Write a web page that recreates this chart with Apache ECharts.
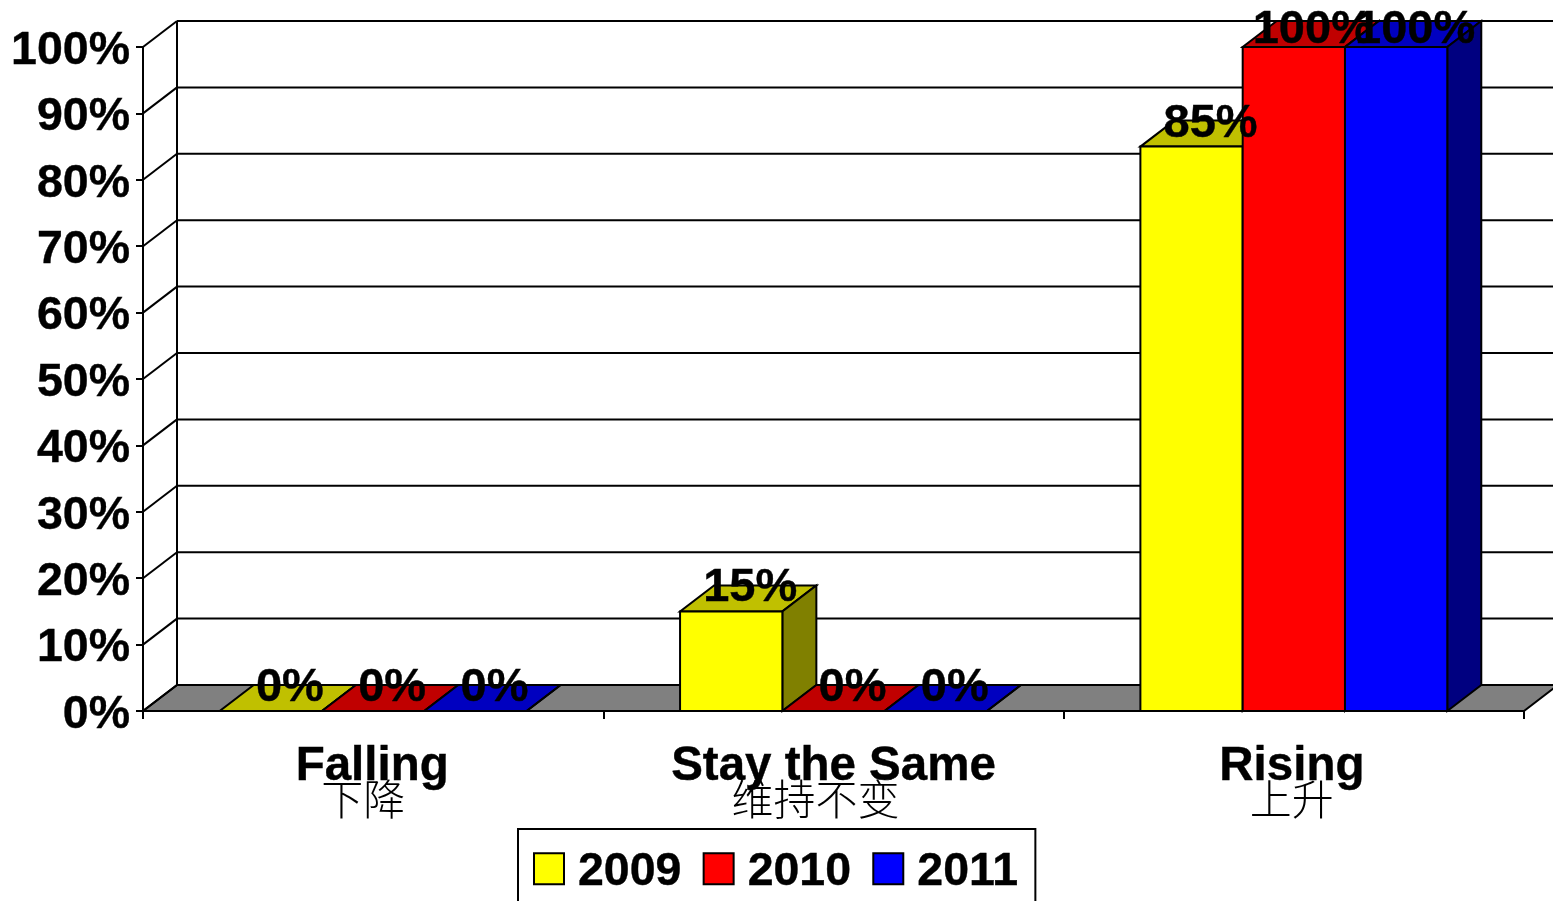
<!DOCTYPE html>
<html><head><meta charset="utf-8">
<style>html,body{margin:0;padding:0;background:#fff;overflow:hidden}#c{width:1553px;height:901px}</style>
<script src="https://cdn.jsdelivr.net/npm/echarts@6/dist/echarts.min.js"></script>
</head><body><div id="c"></div>
<script>
const categories = ['Falling', 'Stay the Same', 'Rising'];
const categoriesZh = ['下降', '维持不变', '上升'];
const years = ['2009', '2010', '2011'];
const values2009 = [0, 15, 85];
const values2010 = [0, 0, 100];
const values2011 = [0, 0, 100];
const yTicks = [0, 10, 20, 30, 40, 50, 60, 70, 80, 90, 100];

const allValues = [values2009, values2010, values2011];
const faces = [
  { front: '#FFFF00', top: '#C0C000', side: '#808000' },
  { front: '#FF0000', top: '#C00000', side: '#800000' },
  { front: '#0000FF', top: '#0000C0', side: '#000080' }
];
const DX = 34, DY = -26, LINE = 2, BOLD = 0.4;
const FONT = 'Liberation Sans';
const lineStyle = { stroke: '#000', lineWidth: LINE, fill: null };

function poly(points, fill) {
  return { type: 'polygon', shape: { points }, style: { fill, stroke: '#000', lineWidth: LINE, lineJoin: 'miter' } };
}
function seg(a, b) {
  return { type: 'line', shape: { x1: a[0], y1: a[1], x2: b[0], y2: b[1] }, style: lineStyle };
}
function wallItem(params, api) {
  const v = api.value(1);
  const band = api.size([1, 0])[0];
  const left = api.coord([0, v])[0] - band / 2;
  const right = left + band * categories.length;
  const y = api.coord([0, v])[1];
  const y0 = api.coord([0, 0])[1];
  const y100 = api.coord([0, yTicks[yTicks.length - 1]])[1];
  const ch = [];
  if (v === 0) {
    ch.push(poly([[left, y0], [right, y0], [right + DX, y0 + DY], [left + DX, y0 + DY]], '#808080'));
    ch.push(seg([left + DX, y0 + DY], [left + DX, y100 + DY]));
  } else {
    ch.push(seg([left + DX, y + DY], [right + DX, y + DY]));
  }
  ch.push(seg([left, y], [left + DX, y + DY]));
  return { type: 'group', children: ch };
}
function barGeom(api, s) {
  const c = api.value(0), v = api.value(1);
  const band = api.size([1, 0])[0];
  const w = band / 4.5;
  const p = api.coord([c, v]);
  const base = api.coord([c, 0])[1];
  const x = p[0] + (s - 1.5) * w;
  return { x, w, y: p[1], base };
}
function barItem(s) {
  return function (params, api) {
    const g = barGeom(api, s);
    const f = faces[s];
    return { type: 'group', children: [
      poly([[g.x, g.y], [g.x + g.w, g.y], [g.x + g.w + DX, g.y + DY], [g.x + DX, g.y + DY]], f.top),
      poly([[g.x + g.w, g.base], [g.x + g.w + DX, g.base + DY], [g.x + g.w + DX, g.y + DY], [g.x + g.w, g.y]], f.side),
      poly([[g.x, g.base], [g.x + g.w, g.base], [g.x + g.w, g.y], [g.x, g.y]], f.front)
    ] };
  };
}
function labelItem(params, api) {
  const s = api.value(2);
  const g = barGeom(api, s);
  const lift = api.value(1) === 100 ? -17 : -23;
  return {
    type: 'text',
    style: {
      x: g.x + g.w / 2 + 19, y: g.y + lift,
      text: api.value(1) + '%', align: 'center', verticalAlign: 'middle',
      font: 'bold 47px "' + FONT + '"', fill: '#000', stroke: '#000', lineWidth: BOLD
    }
  };
}
const wallData = yTicks.map(t => [0, t]);
const labelData = [];
allValues.forEach((vals, s) => vals.forEach((v, c) => labelData.push([c, v, s])));

const series = [
  { name: 'walls', type: 'custom', z: 1, silent: true, clip: false, renderItem: wallItem, encode: { x: 0, y: 1 }, data: wallData }
];
years.forEach((y, s) => {
  series.push({
    name: y, type: 'custom', z: 2 + s, silent: true, clip: false,
    renderItem: barItem(s), encode: { x: 0, y: 1 },
    itemStyle: { color: faces[s].front, borderColor: '#000', borderWidth: 2 },
    data: allValues[s].map((v, c) => [c, v])
  });
});
series.push({ name: 'labels', type: 'custom', z: 9, silent: true, clip: false, renderItem: labelItem, encode: { x: 0, y: 1 }, data: labelData });

const zhShift = [20, 36, 4];
const enShift = [2, 0, 4];
const rich = {};
categories.forEach((c, i) => {
  rich['en' + i] = { fontFamily: FONT, fontWeight: 'bold', fontSize: 47.5, color: '#000', textBorderColor: '#000', textBorderWidth: BOLD, lineHeight: 30, padding: [0, enShift[i], 0, 0] };
  rich['zh' + i] = { fontFamily: '"Noto Sans CJK SC"', fontWeight: 300, fontSize: 42, color: '#000', lineHeight: 34, padding: [0, zhShift[i], 0, 0] };
});

const chart = echarts.init(document.getElementById('c'), null, { renderer: 'canvas' });
chart.setOption({
  animation: false,
  backgroundColor: '#fff',
  grid: { left: 143, right: 29, top: 47, bottom: 190, containLabel: false },
  legend: {
    data: years, left: 518, top: 829, orient: 'horizontal',
    padding: [19, 17, 40, 15], itemGap: 21, itemWidth: 30, itemHeight: 31,
    icon: 'rect', borderColor: '#000', borderWidth: 2, backgroundColor: '#fff',
    selectedMode: false,
    formatter: '{t|{name}}',
    textStyle: {
      rich: { t: { fontFamily: FONT, fontWeight: 'bold', fontSize: 46.5, color: '#000', textBorderColor: '#000', textBorderWidth: BOLD, padding: [6, 0, 0, 9] } }
    },
    itemStyle: { borderColor: '#000', borderWidth: 2 }
  },
  xAxis: {
    type: 'category', data: categories,
    axisLine: { show: true, lineStyle: { color: '#000', width: 2 } },
    axisTick: { show: true, alignWithLabel: false, length: 8, lineStyle: { color: '#000', width: 2 } },
    axisLabel: {
      margin: 41, interval: 0,
      formatter: (val, i) => '{en' + i + '|' + val + '}\n{zh' + i + '|' + categoriesZh[i] + '}',
      rich
    }
  },
  yAxis: {
    type: 'value', min: 0, max: 100, interval: 10,
    axisLine: { show: true, lineStyle: { color: '#000', width: 2 } },
    axisTick: { show: true, length: 7, lineStyle: { color: '#000', width: 2 } },
    splitLine: { show: false },
    axisLabel: {
      margin: 13, formatter: '{t|{value}%}',
      rich: { t: { fontFamily: FONT, fontWeight: 'bold', fontSize: 46.5, color: '#000', textBorderColor: '#000', textBorderWidth: BOLD, padding: [8, 0, 0, 0] } }
    }
  },
  series
});
</script></body></html>
